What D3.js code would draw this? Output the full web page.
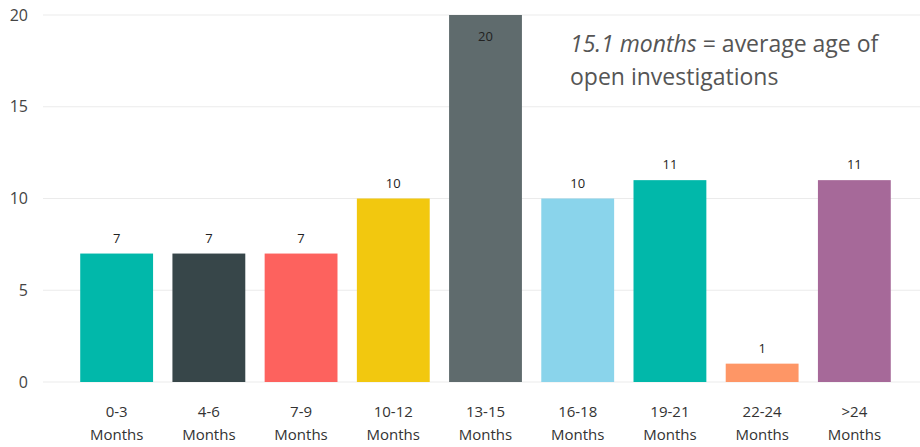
<!DOCTYPE html>
<html>
<head>
<meta charset="utf-8">
<script src="https://cdn.jsdelivr.net/npm/d3@7"></script>
<style>
  body { margin: 0; background: #fff; }
  svg text { font-family: "Open Sans", "Noto Sans", sans-serif; }
</style>
</head>
<body>
<div id="chart"></div>
<script>
var categories = ["0-3", "4-6", "7-9", "10-12", "13-15", "16-18", "19-21", "22-24", ">24"]
var values = [7, 7, 7, 10, 20, 10, 11, 1, 11]
var colors = ["#01B8AA", "#374649", "#FD625E", "#F2C80F", "#5F6B6D", "#8AD4EB", "#01B8AA", "#FE9666", "#A66999"]
var yTicks = [0, 5, 10, 15, 20]

var width = 920, height = 447

var svg = d3.select("#chart").append("svg")
    .attr("width", width)
    .attr("height", height)

var xscale = d3.scaleBand()
    .domain(categories)
    .range([71, 900])
    .paddingInner(0.21)
    .paddingOuter(0.1)

var yscale = d3.scaleLinear()
    .domain([0, 20])
    .range([382, 15])

// grid lines
svg.append("g")
    .selectAll("line")
    .data(yTicks)
    .enter()
    .append("line")
    .attr("x1", 43)
    .attr("x2", width)
    .attr("y1", d => yscale(d))
    .attr("y2", d => yscale(d))
    .attr("stroke", "#ebebeb")
    .attr("stroke-width", 1)

// y axis labels
var yaxis = d3.axisLeft(yscale).tickValues(yTicks).tickSize(0).tickPadding(0)
svg.append("g")
    .attr("transform", "translate(28,0)")
    .call(yaxis)
    .call(g => g.select(".domain").remove())
    .call(g => g.selectAll("text")
        .attr("fill", "#444")
        .style("font-size", "16px")
        .style("font-family", "'Open Sans', sans-serif"))

// bars
svg.append("g")
    .selectAll("rect")
    .data(values)
    .enter()
    .append("rect")
    .attr("x", (d, i) => xscale(categories[i]))
    .attr("y", d => yscale(d))
    .attr("width", xscale.bandwidth())
    .attr("height", d => yscale(0) - yscale(d))
    .attr("fill", (d, i) => colors[i])

// value labels (the tallest one sits inside its bar)
svg.append("g")
    .selectAll("text")
    .data(values)
    .enter()
    .append("text")
    .attr("x", (d, i) => xscale(categories[i]) + xscale.bandwidth() / 2)
    .attr("y", d => d == 20 ? yscale(d) + 26 : yscale(d) - 11)
    .attr("text-anchor", "middle")
    .attr("fill", "#222")
    .style("font-size", "13px")
    .text(d => d)

// x axis labels (two lines)
var xlab = svg.append("g")
    .selectAll("text")
    .data(categories)
    .enter()
    .append("text")
    .attr("text-anchor", "middle")
    .attr("fill", "#333")
    .style("font-size", "15px")

xlab.append("tspan")
    .attr("x", d => xscale(d) + xscale.bandwidth() / 2)
    .attr("y", 417)
    .text(d => d)

xlab.append("tspan")
    .attr("x", d => xscale(d) + xscale.bandwidth() / 2)
    .attr("y", 440)
    .text("Months")

// annotation
var note = svg.append("text")
    .attr("x", 570)
    .attr("y", 52)
    .attr("fill", "#555")
    .style("font-size", "23px")

note.append("tspan").style("font-style", "italic").text("15.1 months")
note.append("tspan").text(" = average age of")

svg.append("text")
    .attr("x", 570)
    .attr("y", 85)
    .attr("fill", "#555")
    .style("font-size", "23px")
    .text("open investigations")
</script>
</body>
</html>
